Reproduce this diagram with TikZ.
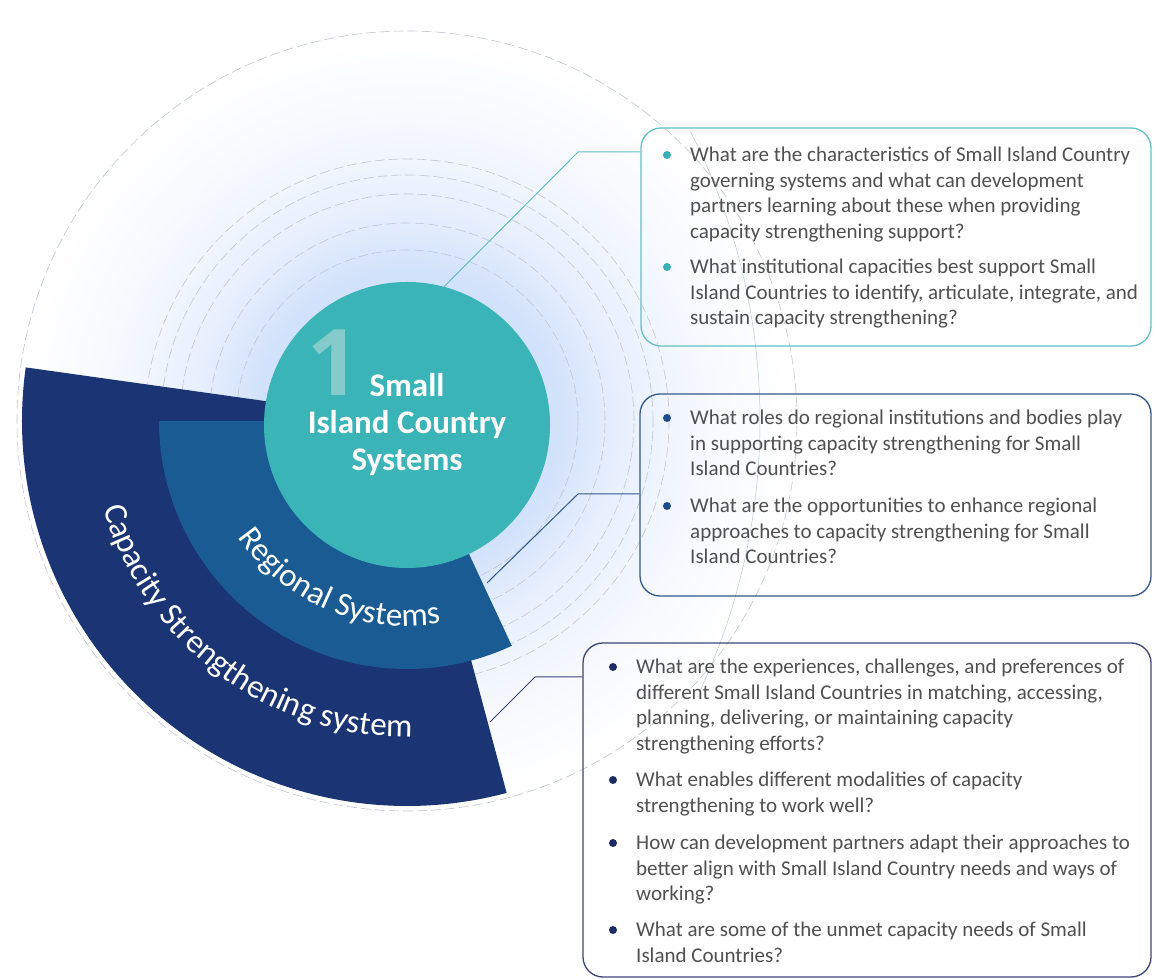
\documentclass[tikz,border=0pt]{standalone}
\usepackage{fontspec}
\setmainfont{Carlito}
\newfontfamily\onefont{Open Sans}
\usetikzlibrary{decorations.text}
\definecolor{tealc}{HTML}{3AB4B6}
\definecolor{tealone}{HTML}{86CBCB}
\definecolor{regblue}{HTML}{1A5B93}
\definecolor{navy}{HTML}{1B3473}
\definecolor{ringc}{HTML}{BFC6D4}
\definecolor{glowc}{HTML}{D3E2FB}
\definecolor{glowm}{HTML}{E8F0FD}
\definecolor{glowo}{HTML}{F7F9FE}
\definecolor{txt}{HTML}{505050}
\definecolor{bone}{HTML}{63C0C4}
\definecolor{btwo}{HTML}{34588A}
\definecolor{bthree}{HTML}{3E4578}
\definecolor{dotone}{HTML}{3AAFB5}
\definecolor{dottwo}{HTML}{1D4C8A}
\definecolor{dotthree}{HTML}{1E2B66}
\pgfdeclareradialshading{glow}{\pgfpoint{0bp}{0bp}}{color(0bp)=(glowc); color(9.5bp)=(glowc); color(13.5bp)=(glowm); color(19bp)=(glowo); color(24bp)=(white); color(50bp)=(white)}
\begin{document}
\begin{tikzpicture}[x=1pt,y=1pt,
  ring/.style={ringc, line width=0.6pt, dash pattern=on 10pt off 4pt},
  qbox/.style={draw, rectangle, rounded corners=20pt, line width=1.3pt, inner sep=0pt},
  qtext/.style={anchor=north west, inner sep=0pt, align=left, text=txt, font=\fontsize{21}{25.8}\selectfont},
  link/.style={line width=1pt},
  arctext/.style={decorate, decoration={text along path, text align=center, text={|\fontsize{33}{33}\selectfont\color{white}|#1}}}]
\useasboundingbox (0,0) rectangle (1153,979);
\fill[white] (0,0) rectangle (1153,979);
\coordinate (C) at (407,558);
% glow and rings
\shade[shading=glow] (C) circle (400);
\foreach \r in {171,198,227,246,262} \draw[ring] (C) circle (\r);
\draw[ring] (C) circle (390);
\draw[ringc, line width=0.5pt] ([shift={(-25:637)}]123,558) arc (-25:27:637);
% sectors
\fill[navy] (C) -- ([shift={(172:385)}]C) arc (172:285:385) -- cycle;
\fill[regblue] (C) -- ([shift={(180:248)}]C) arc (180:295:248) -- cycle;
% core circle
\node[circle, fill=tealc, minimum size=286pt, inner sep=0pt] (core) at (407,554) {};
\node[anchor=base, inner sep=0pt, font=\onefont\fontsize{92}{92}\selectfont\bfseries, text=tealone] (one) at (334,583) {1};
\node[align=center, inner sep=0pt, text=white, font=\fontsize{33}{37}\selectfont\bfseries] (title) at (407,554) {Small\\Island Country\\Systems};
% curved labels
\path[arctext={Regional Systems}] ([shift={(200:205)}]C) arc (200:294:205);
\path[arctext={Capacity Strengthening system}] ([shift={(186:316)}]C) arc (186:281:316);
% boxes
\node[qbox, draw=bone, minimum width=510pt, minimum height=218pt] (box1) at (896,742) {};
\node[qbox, draw=btwo, minimum width=511pt, minimum height=202pt] (box2) at (895.5,484) {};
\node[qbox, draw=bthree, minimum width=568pt, minimum height=334pt] (box3) at (867,169) {};
% connectors
\coordinate (k1) at (578,827);
\draw[link, bone] (core.75) -- (k1) -- (k1 -| box1.west);
\coordinate (s2) at (487,396);
\coordinate (k2) at (578,485);
\draw[link, btwo] (s2) -- (k2) -- (k2 -| box2.west);
\coordinate (s3) at (490,257);
\coordinate (k3) at (535,302);
\draw[link, bthree] (s3) -- (k3) -- (k3 -| box3.west);
% box 1 text
\fill[dotone] (667,824) circle (4);
\node[qtext] (q11) at (690,835.9) {\strut What are the characteristics of Small Island Country\\governing systems and what can development\\partners learning about these when providing\\capacity strengthening support?};
\fill[dotone] (667,712) circle (4);
\node[qtext] (q12) at (690,723.9) {\strut What institutional capacities best support Small\\Island Countries to identify, articulate, integrate, and\\sustain capacity strengthening?};
% box 2 text
\fill[dottwo] (667,561) circle (4);
\node[qtext] (q21) at (690,572.9) {\strut What roles do regional institutions and bodies play\\in supporting capacity strengthening for Small\\Island Countries?};
\fill[dottwo] (667,473) circle (4);
\node[qtext] (q22) at (690,484.9) {\strut What are the opportunities to enhance regional\\approaches to capacity strengthening for Small\\Island Countries?};
% box 3 text
\fill[dotthree] (613,312) circle (4);
\node[qtext] (q31) at (636,323.9) {\strut What are the experiences, challenges, and preferences of\\different Small Island Countries in matching, accessing,\\planning, delivering, or maintaining capacity\\strengthening efforts?};
\fill[dotthree] (613,199) circle (4);
\node[qtext] (q32) at (636,210.9) {\strut What enables different modalities of capacity\\strengthening to work well?};
\fill[dotthree] (613,136) circle (4);
\node[qtext] (q33) at (636,147.9) {\strut How can development partners adapt their approaches to\\better align with Small Island Country needs and ways of\\working?};
\fill[dotthree] (613,49) circle (4);
\node[qtext] (q34) at (636,60.9) {\strut What are some of the unmet capacity needs of Small\\Island Countries?};
\end{tikzpicture}
\end{document}
